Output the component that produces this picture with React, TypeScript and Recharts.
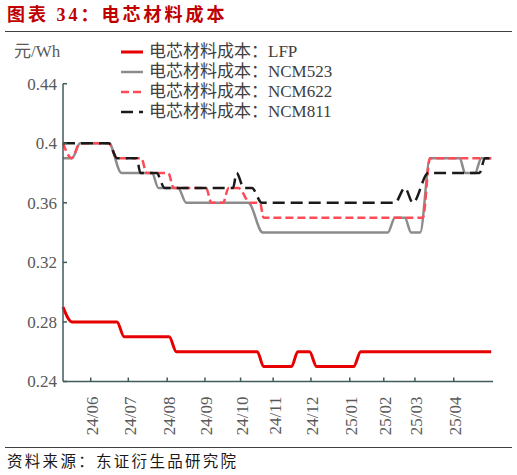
import React from 'react';
import { LineChart, Line, XAxis, YAxis, Legend } from 'recharts';

// trading-day index vs value (元/Wh)
const lfp = [
  { d: 0, v: 0.29 }, { d: 5, v: 0.28 }, { d: 30, v: 0.28 }, { d: 34, v: 0.27 },
  { d: 59, v: 0.27 }, { d: 63, v: 0.26 }, { d: 108, v: 0.26 }, { d: 111.5, v: 0.25 },
  { d: 127, v: 0.25 }, { d: 130.5, v: 0.26 }, { d: 137, v: 0.26 }, { d: 141, v: 0.25 },
  { d: 161.5, v: 0.25 }, { d: 165.5, v: 0.26 }, { d: 238, v: 0.26 },
];
const ncm523 = [
  { d: 0, v: 0.39 }, { d: 5, v: 0.39 }, { d: 9.5, v: 0.4 }, { d: 25.5, v: 0.4 },
  { d: 32.5, v: 0.38 }, { d: 49.5, v: 0.38 }, { d: 53, v: 0.37 }, { d: 64, v: 0.37 },
  { d: 68.5, v: 0.36 }, { d: 103, v: 0.36 }, { d: 111, v: 0.34 }, { d: 180.5, v: 0.34 },
  { d: 184.5, v: 0.35 }, { d: 190, v: 0.35 }, { d: 193.5, v: 0.34 }, { d: 198.5, v: 0.34 },
  { d: 204, v: 0.39 }, { d: 220.5, v: 0.39 }, { d: 223.5, v: 0.38 }, { d: 229, v: 0.38 },
  { d: 232.5, v: 0.39 }, { d: 238, v: 0.39 },
];
const ncm622 = [
  { d: 0, v: 0.4 }, { d: 4.8, v: 0.39 }, { d: 9.5, v: 0.4 }, { d: 25.5, v: 0.4 },
  { d: 30, v: 0.39 }, { d: 43.5, v: 0.39 }, { d: 46.5, v: 0.38 }, { d: 58.5, v: 0.38 },
  { d: 61.5, v: 0.37 }, { d: 79.5, v: 0.37 }, { d: 82.5, v: 0.36 }, { d: 89, v: 0.36 },
  { d: 92, v: 0.37 }, { d: 97.5, v: 0.37 }, { d: 104, v: 0.36 }, { d: 109.5, v: 0.36 },
  { d: 111.5, v: 0.35 }, { d: 200, v: 0.35 }, { d: 204, v: 0.39 }, { d: 238, v: 0.39 },
];
const ncm811 = [
  { d: 0, v: 0.4 }, { d: 25.5, v: 0.4 }, { d: 30, v: 0.39 }, { d: 41, v: 0.39 },
  { d: 43, v: 0.38 }, { d: 52, v: 0.38 }, { d: 56.5, v: 0.37 }, { d: 94.5, v: 0.37 },
  { d: 96.5, v: 0.38 }, { d: 100.5, v: 0.37 }, { d: 105, v: 0.37 }, { d: 110.5, v: 0.36 },
  { d: 184.5, v: 0.36 }, { d: 190, v: 0.37 }, { d: 194.5, v: 0.36 }, { d: 203, v: 0.38 },
  { d: 231.5, v: 0.38 }, { d: 234.5, v: 0.39 }, { d: 238, v: 0.39 },
];

const monthTicks = [15.4, 36.3, 57.9, 78.9, 98.7, 116.8, 137.8, 159.4, 178.3, 195.6, 217.2];
const monthLabels = ['24/06', '24/07', '24/08', '24/09', '24/10', '24/11', '24/12', '25/01', '25/02', '25/03', '25/04'];
const yTicks = [0.24, 0.28, 0.32, 0.36, 0.4, 0.44];

const seriesNames = ['电芯材料成本：LFP', '电芯材料成本：NCM523', '电芯材料成本：NCM622', '电芯材料成本：NCM811'];
const seriesColors = ['#E60000', '#8C8C8C', '#FF4B57', '#1A1A1A'];
const seriesDash = ['', '', '8 4', '12 6'];
const seriesWidth = [3, 2.5, 2.5, 2.5];

const AXIS = '#3F5B5B';
const FONT = '"Liberation Serif", "Noto Sans CJK SC", serif';

const YTick = (props: any) => {
  const { x, y, payload } = props;
  return (
    <g>
      <line x1={x + 6} x2={x + 10} y1={y} y2={y} stroke={AXIS} strokeWidth={1.5} />
      <text x={x} y={y} dy="0.35em" textAnchor="end" fontFamily={FONT} fontSize={17} fill="#595959">
        {String(payload.value)}
      </text>
    </g>
  );
};

const XTick = (props: any) => {
  const { x, y, payload } = props;
  const i = monthTicks.indexOf(payload.value);
  const ty = y + 15;
  return (
    <g>
      <line x1={x} x2={x} y1={y} y2={y - 4} stroke={AXIS} strokeWidth={1.5} />
      <text
        x={x + 1.5}
        y={ty}
        dy="0.35em"
        textAnchor="end"
        transform={`rotate(-90 ${x + 1.5} ${ty})`}
        fontFamily={FONT}
        fontSize={17}
        fill="#595959"
      >
        {monthLabels[i]}
      </text>
    </g>
  );
};

const LegendContent = () => (
  <div style={{ fontFamily: FONT, fontSize: 17, color: '#404040' }}>
    {seriesNames.map((n, i) => (
      <div key={n} style={{ display: 'flex', alignItems: 'center', height: 20 }}>
        <svg width={22} height={20} style={{ display: 'block' }}>
          <line
            x1={0}
            x2={22}
            y1={10}
            y2={10}
            stroke={seriesColors[i]}
            strokeWidth={seriesWidth[i]}
            strokeDasharray={seriesDash[i] || undefined}
          />
        </svg>
        <span style={{ marginLeft: 6, whiteSpace: 'nowrap', lineHeight: '20px' }}>{n}</span>
      </div>
    ))}
  </div>
);

export default function App() {
  const seriesData = [lfp, ncm523, ncm622, ncm811];
  return (
    <div style={{ position: 'absolute', left: 0, top: 0, width: 517, height: 475, background: '#fff', overflow: 'hidden' }}>
      <div
        style={{
          position: 'absolute', left: 7, top: 3, fontFamily: FONT, fontWeight: 'bold',
          fontSize: 18, lineHeight: '24px', letterSpacing: 3, color: '#C00000', whiteSpace: 'nowrap',
        }}
      >
        图表 34：电芯材料成本
      </div>
      <div style={{ position: 'absolute', left: 5, top: 31, width: 507, height: 1, background: '#404040' }} />
      <div
        style={{
          position: 'absolute', left: 14, top: 41, fontFamily: FONT, fontSize: 17, lineHeight: '22px',
          color: '#595959', whiteSpace: 'nowrap',
        }}
      >
        元/Wh
      </div>
      <div style={{ position: 'absolute', left: 0, top: 0 }}>
        <LineChart width={517} height={475} margin={{ top: 83.7, right: 24, bottom: 33.5, left: 0 }}>
          <XAxis
            dataKey="d"
            type="number"
            domain={[0, 239]}
            ticks={monthTicks}
            interval={0}
            height={60}
            tickSize={0}
            tickMargin={0}
            tickLine={false}
            axisLine={{ stroke: AXIS, strokeWidth: 1.5 }}
            tick={<XTick />}
            allowDuplicatedCategory={false}
          />
          <YAxis
            type="number"
            domain={[0.24, 0.44]}
            ticks={yTicks}
            interval={0}
            width={63}
            tickSize={0}
            tickMargin={6}
            tickLine={false}
            axisLine={{ stroke: AXIS, strokeWidth: 1.5 }}
            tick={<YTick />}
          />
          <Legend
            layout="vertical"
            verticalAlign="middle"
            align="center"
            content={<LegendContent />}
            wrapperStyle={{ position: 'absolute', left: 121, top: 41.5, width: 260, height: 82 }}
          />
          {[1, 2, 3, 0].map((i) => (
            <Line
              key={seriesNames[i]}
              data={seriesData[i]}
              dataKey="v"
              name={seriesNames[i]}
              type="monotone"
              stroke={seriesColors[i]}
              strokeWidth={seriesWidth[i]}
              strokeDasharray={seriesDash[i] || undefined}
              dot={false}
              activeDot={false}
              isAnimationActive={false}
            />
          ))}
        </LineChart>
      </div>
      <div style={{ position: 'absolute', left: 5, top: 447, width: 507, height: 1, background: '#404040' }} />
      <div
        style={{
          position: 'absolute', left: 7, top: 451, fontFamily: FONT, fontSize: 15.5, lineHeight: '22px',
          letterSpacing: 2.3, color: '#1a1a1a', whiteSpace: 'nowrap',
        }}
      >
        资料来源：东证衍生品研究院
      </div>
    </div>
  );
}
